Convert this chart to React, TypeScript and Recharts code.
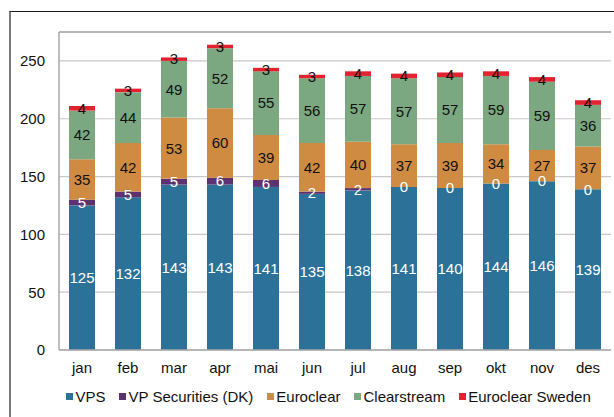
import React from "react";
import {
  BarChart,
  Bar,
  XAxis,
  YAxis,
  CartesianGrid,
  LabelList,
  ReferenceLine,
} from "recharts";

const months = ["jan", "feb", "mar", "apr", "mai", "jun", "jul", "aug", "sep", "okt", "nov", "des"];
const vps = [125, 132, 143, 143, 141, 135, 138, 141, 140, 144, 146, 139];
const vpDK = [5, 5, 5, 6, 6, 2, 2, 0, 0, 0, 0, 0];
const euroclear = [35, 42, 53, 60, 39, 42, 40, 37, 39, 34, 27, 37];
const clearstream = [42, 44, 49, 52, 55, 56, 57, 57, 57, 59, 59, 36];
const euroclearSweden = [4, 3, 3, 3, 3, 3, 4, 4, 4, 4, 4, 4];
const yTicks = [0, 50, 100, 150, 200, 250];

const seriesDefs = [
  { key: "vps", name: "VPS", color: "#2C7298", label: "#ffffff", values: vps },
  { key: "vpDK", name: "VP Securities (DK)", color: "#5D3270", label: "#ffffff", values: vpDK },
  { key: "euroclear", name: "Euroclear", color: "#CF8B41", label: "#111111", values: euroclear },
  { key: "clearstream", name: "Clearstream", color: "#7BA880", label: "#111111", values: clearstream },
  { key: "sweden", name: "Euroclear Sweden", color: "#E2232F", label: "#111111", values: euroclearSweden },
];

const data = months.map((m, i) => {
  const row: Record<string, any> = { month: m };
  seriesDefs.forEach((s) => {
    row[s.key] = s.values[i];
  });
  return row;
});

const FONT = "'Liberation Sans', Arial, Helvetica, sans-serif";

// Draws a zero-valued VP Securities label at the top of the VPS segment
const ZeroLabel = (props: any) => {
  const { x, y, width, value } = props;
  if (Number(value) !== 0) return null;
  return (
    <text
      x={Number(x) + Number(width) / 2}
      y={Number(y)}
      dy="0.355em"
      textAnchor="middle"
      fill="#ffffff"
      fontSize={15}
      fontFamily={FONT}
    >
      {value}
    </text>
  );
};

export default function App() {
  return (
    <div
      style={{
        position: "fixed",
        left: 0,
        top: 0,
        width: 614,
        height: 417,
        overflow: "hidden",
        background: "#ffffff",
        fontFamily: FONT,
      }}
    >
      <div
        style={{
          position: "absolute",
          left: 9,
          top: 11,
          width: 700,
          height: 500,
          borderTop: "1.5px solid #1a1a1a",
          borderLeft: "2px solid #7a7a7a",
        }}
      />
      <div style={{ position: "absolute", left: 0, top: 0 }}>
        <BarChart
          width={614}
          height={417}
          data={data}
          margin={{ top: 32, right: 3, left: 0, bottom: 37 }}
          barSize={26}
        >
          <CartesianGrid vertical={false} stroke="#c8c8c8" strokeWidth={1.2} />
          <XAxis
            dataKey="month"
            height={30}
            tickLine={false}
            tickSize={0}
            tickMargin={12}
            axisLine={{ stroke: "#a8a8a8", strokeWidth: 1.5 }}
            tick={{ fill: "#111111", fontSize: 15, fontFamily: FONT }}
            interval={0}
          />
          <YAxis
            width={59}
            domain={[0, 275]}
            ticks={yTicks}
            tickLine={false}
            tickSize={0}
            tickMargin={14}
            axisLine={{ stroke: "#a8a8a8", strokeWidth: 1.5 }}
            tick={{ fill: "#111111", fontSize: 15, fontFamily: FONT }}
            allowDataOverflow
          />
          <YAxis
            yAxisId="r"
            orientation="right"
            width={0}
            tick={false}
            tickLine={false}
            axisLine={{ stroke: "#a8a8a8", strokeWidth: 1.5 }}
          />
          <ReferenceLine y={275} stroke="#a8a8a8" strokeWidth={1.5} />
          {seriesDefs.map((s) => (
            <Bar
              key={s.key}
              dataKey={s.key}
              name={s.name}
              stackId="a"
              fill={s.color}
              isAnimationActive={false}
            >
              <LabelList
                dataKey={s.key}
                position="center"
                fill={s.label}
                fontSize={15}
                fontFamily={FONT}
              />
              {s.key === "vps" ? <LabelList dataKey="vpDK" content={ZeroLabel} /> : null}
            </Bar>
          ))}
        </BarChart>
      </div>
      <div
        style={{
          position: "absolute",
          left: 66,
          top: 388,
          display: "flex",
          alignItems: "center",
          fontSize: 15,
          color: "#111111",
          whiteSpace: "nowrap",
          lineHeight: "17px",
        }}
      >
        {seriesDefs.map((s, i) => (
          <div
            key={s.key}
            style={{ display: "flex", alignItems: "center", marginRight: i < seriesDefs.length - 1 ? 13.5 : 0 }}
          >
            <span
              style={{
                display: "inline-block",
                width: 7,
                height: 7,
                background: s.color,
                marginRight: 2.5,
              }}
            />
            <span>{s.name}</span>
          </div>
        ))}
      </div>
    </div>
  );
}
